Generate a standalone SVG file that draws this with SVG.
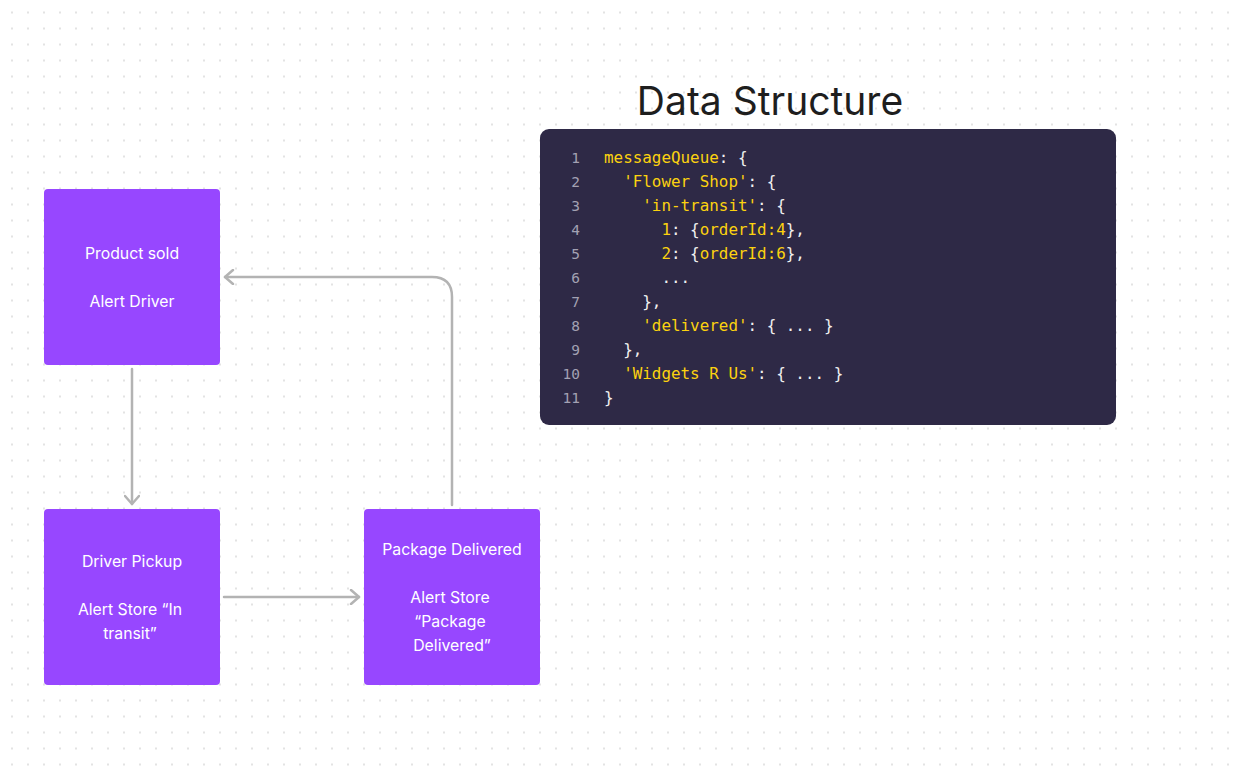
<svg xmlns="http://www.w3.org/2000/svg" width="1241" height="775" viewBox="0 0 1241 775">
<defs>
<pattern id="dots" x="0" y="0" width="16" height="16" patternUnits="userSpaceOnUse">
<rect x="11" y="11.5" width="2" height="2" fill="#e3e3e3"/>
</pattern>
<marker id="chev" viewBox="0 0 16 16" refX="13" refY="8" markerWidth="16" markerHeight="16" markerUnits="userSpaceOnUse" orient="auto">
<path d="M5 1 L13 8 L5 15" fill="none" stroke="#b3b3b3" stroke-width="2.5" stroke-linecap="round" stroke-linejoin="round"/>
</marker>
<style>
.node{fill:#9747ff}
.nt{font-family:Inter,"Liberation Sans",sans-serif;font-size:15.8px;fill:#ffffff;text-anchor:middle}
.conn{fill:none;stroke:#b3b3b3;stroke-width:2.5;stroke-linecap:round}
.code{font-family:"DejaVu Sans Mono","Liberation Mono",monospace;font-size:15.9px;fill:#f0f0f0}
.ln{font-family:"DejaVu Sans Mono","Liberation Mono",monospace;font-size:14.5px;fill:#a3a1b3;text-anchor:end}
.k{fill:#fcd20f}
</style>
</defs>
<rect width="1241" height="775" fill="#ffffff"/>
<rect width="1241" height="775" fill="url(#dots)"/>

<g id="title">
<text x="770" y="115" text-anchor="middle" font-family="Inter,'Liberation Sans',sans-serif" font-size="39" fill="#1e1e1e">Data Structure</text>
</g>

<g id="code-block">
<rect x="540" y="129" width="576" height="296" rx="9" fill="#2e2946"/>
<text class="ln" x="580" y="163">1</text>
<text class="ln" x="580" y="187">2</text>
<text class="ln" x="580" y="211">3</text>
<text class="ln" x="580" y="235">4</text>
<text class="ln" x="580" y="259">5</text>
<text class="ln" x="580" y="283">6</text>
<text class="ln" x="580" y="307">7</text>
<text class="ln" x="580" y="331">8</text>
<text class="ln" x="580" y="355">9</text>
<text class="ln" x="580" y="379">10</text>
<text class="ln" x="580" y="403">11</text>
<text class="code" x="604" y="163" xml:space="preserve"><tspan class="k">messageQueue</tspan>: {</text>
<text class="code" x="604" y="187" xml:space="preserve">  <tspan class="k">'Flower Shop'</tspan>: {</text>
<text class="code" x="604" y="211" xml:space="preserve">    <tspan class="k">'in-transit'</tspan>: {</text>
<text class="code" x="604" y="235" xml:space="preserve">      <tspan class="k">1</tspan>: {<tspan class="k">orderId:4</tspan>},</text>
<text class="code" x="604" y="259" xml:space="preserve">      <tspan class="k">2</tspan>: {<tspan class="k">orderId:6</tspan>},</text>
<text class="code" x="604" y="283" xml:space="preserve">      ...</text>
<text class="code" x="604" y="307" xml:space="preserve">    },</text>
<text class="code" x="604" y="331" xml:space="preserve">    <tspan class="k">'delivered'</tspan>: { ... }</text>
<text class="code" x="604" y="355" xml:space="preserve">  },</text>
<text class="code" x="604" y="379" xml:space="preserve">  <tspan class="k">'Widgets R Us'</tspan>: { ... }</text>
<text class="code" x="604" y="403" xml:space="preserve">}</text>
</g>

<g id="connectors">
<path class="conn" d="M132 369 L132 504" marker-end="url(#chev)"/>
<path class="conn" d="M224 597 L359 597" marker-end="url(#chev)"/>
<path class="conn" d="M452 505 L452 297 Q452 277 432 277 L225 277" marker-end="url(#chev)"/>
</g>

<g id="node-product-sold">
<rect class="node" x="44" y="189" width="176" height="176" rx="4"/>
<text class="nt" x="132" y="259">Product sold</text>
<text class="nt" x="132" y="307">Alert Driver</text>
</g>

<g id="node-driver-pickup">
<rect class="node" x="44" y="509" width="176" height="176" rx="4"/>
<text class="nt" x="132" y="567">Driver Pickup</text>
<text class="nt" x="130" y="615">Alert Store “In</text>
<text class="nt" x="130" y="639">transit”</text>
</g>

<g id="node-package-delivered">
<rect class="node" x="364" y="509" width="176" height="176" rx="4"/>
<text class="nt" x="452" y="555">Package Delivered</text>
<text class="nt" x="450" y="603">Alert Store</text>
<text class="nt" x="450" y="627">“Package</text>
<text class="nt" x="452" y="651">Delivered”</text>
</g>
</svg>
